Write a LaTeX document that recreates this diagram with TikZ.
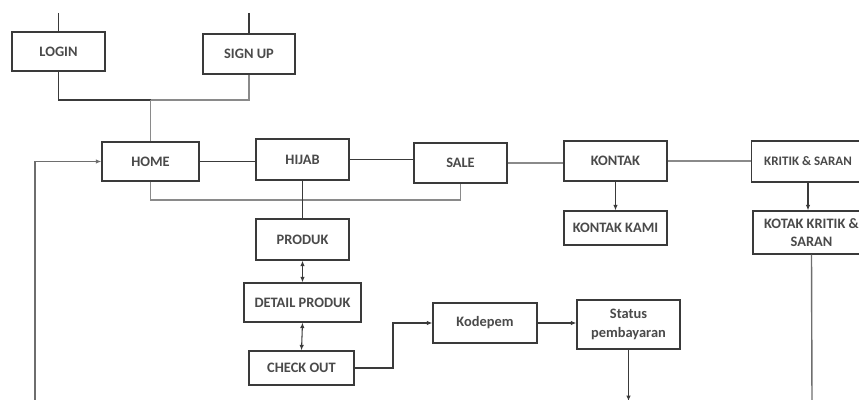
\documentclass[tikz,border=0pt]{standalone}
\usepackage{fontspec}
\setmainfont{Carlito}
\usetikzlibrary{arrows.meta}
\definecolor{boxline}{HTML}{3A3A3A}
\definecolor{boxtext}{HTML}{4A4A4A}
\definecolor{thinline}{HTML}{8A8A8A}

\begin{document}
\begin{tikzpicture}[scale=0.2]
\tikzstyle{every node}+=[inner sep=0pt]
\tikzstyle{box}=[draw=boxline, line width=0.7pt, fill=white, text=boxtext, font=\fontsize{8.2}{10}\selectfont\bfseries, align=center]
\tikzstyle{tip}=[-{Latex[length=1.1mm,width=0.9mm]}]
\tikzstyle{twotip}=[{Latex[length=1.1mm,width=0.9mm]}-{Latex[length=1.1mm,width=0.9mm]}]
\useasboundingbox (0,0) rectangle (85.9,-39.9);
\clip (0,0) rectangle (85.9,-39.9);
% top row
\node [box, minimum width=1.86cm, minimum height=0.78cm] (login) at (5.85,-5.15) {LOGIN};
\node [box, minimum width=1.84cm, minimum height=0.8cm] (signup) at (24.9,-5.4) {SIGN UP};
% main menu
\node [box, minimum width=1.94cm, minimum height=0.78cm] (home) at (15.05,-16.15) {HOME};
\node [box, minimum width=1.86cm, minimum height=0.82cm] (hijab) at (30.25,-15.95) {HIJAB};
\node [box, minimum width=1.86cm, minimum height=0.8cm] (sale) at (46.05,-16.3) {SALE};
\node [box, minimum width=2.06cm, minimum height=0.8cm] (kontak) at (61.55,-16.1) {KONTAK};
\node [box, font=\fontsize{7.4}{9}\selectfont\bfseries, minimum width=2.26cm, minimum height=0.82cm] (kritik) at (80.8,-16.15) {KRITIK \& SARAN};
\node [box, minimum width=2.06cm, minimum height=0.68cm] (kontakkami) at (61.55,-22.8) {KONTAK KAMI};
\node [box, minimum width=2.34cm, minimum height=0.86cm] (kotak) at (81.15,-23.25) {KOTAK KRITIK \&\\SARAN};
% produk
\node [box, minimum width=1.86cm, minimum height=0.82cm] (produk) at (30.25,-23.95) {PRODUK};
\node [box, minimum width=2.34cm, minimum height=0.78cm] (detail) at (30.25,-30.25) {DETAIL PRODUK};
\node [box, minimum width=2.1cm, minimum height=0.68cm] (checkout) at (30.15,-36.8) {CHECK OUT};
\node [box, minimum width=2.08cm, minimum height=0.8cm] (kodepem) at (48.5,-32.3) {Kodepem};
\node [box, font=\fontsize{8.2}{11}\selectfont\bfseries, minimum width=2.06cm, minimum height=0.98cm] (status) at (62.85,-32.45) {Status\\pembayaran};
% free ends
\coordinate (logintop) at (5.85,-1.3);
\coordinate (signuptop) at (24.9,-1.3);
\coordinate (join) at (15.05,-10);
\coordinate (underhome) at (15.05,-20);
\coordinate (bend) at (39.3,-36.8);
\coordinate (statusend) at (62.85,-40.1);
\coordinate (kotakend) at (81.2,-40.1);
\coordinate (loopstart) at (3.5,-40.1);
% lines
\draw [boxline, line width=0.7pt] (logintop) -- (login.north);
\draw [boxline, line width=0.7pt] (signuptop) -- (signup.north);
\draw [boxline, line width=0.6pt] (login.south) |- (join);
\draw [thinline, line width=0.6pt] (join) -| (signup.south);
\draw [thinline, line width=0.6pt] (join) -- (home.north);
\draw [boxline, line width=0.7pt] (home.east) -- (home.east -| hijab.west);
\draw [boxline, line width=0.7pt] (hijab.east) -- (hijab.east -| sale.west);
\draw [thinline, line width=0.7pt] (sale.east) -- (sale.east -| kontak.west);
\draw [thinline, line width=0.7pt] (kontak.east) -- (kontak.east -| kritik.west);
\draw [thinline, line width=0.6pt] (home.south) -- (underhome) -| (sale.south);
\draw [boxline, line width=0.7pt] (hijab.south) -- (produk.north);
\draw [boxline, line width=0.6pt, twotip] (produk.south) -- (detail.north);
\draw [boxline, line width=0.6pt, twotip] (detail.south) -- (checkout.north);
\draw [boxline, line width=0.6pt, tip] (checkout.east) -- (bend) |- (kodepem.west);
\draw [boxline, line width=0.6pt, tip] (kodepem.east) -- (kodepem.east -| status.west);
\draw [boxline, line width=0.8pt, tip] (status.south) -- (statusend);
\draw [boxline, line width=0.6pt, tip] (kontak.south) -- (kontakkami.north);
\draw [boxline, line width=0.6pt, tip] (kritik.south) -- (kritik.south |- kotak.north);
\draw [thinline!80!black, line width=0.8pt] (kotak.south) -- (kotakend);
\draw [thinline!80!black, line width=0.8pt, tip] (loopstart) |- (home.west);
\end{tikzpicture}
\end{document}
